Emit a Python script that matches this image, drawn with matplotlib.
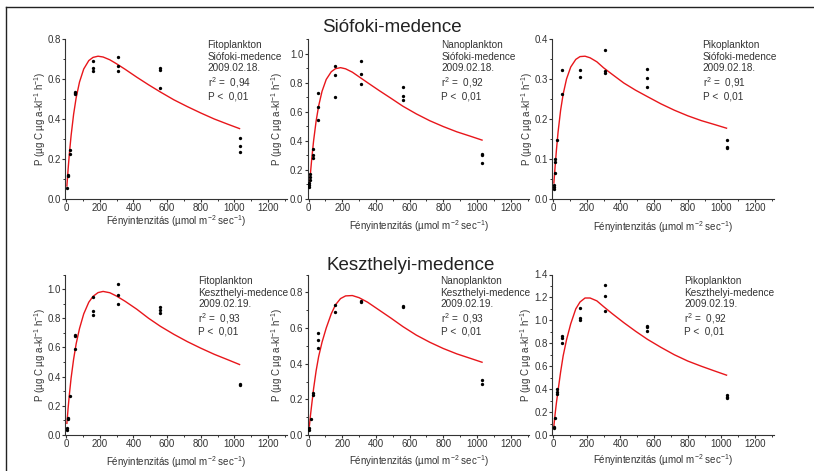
import matplotlib
matplotlib.use('Agg')
import matplotlib.pyplot as plt
from matplotlib.lines import Line2D
from matplotlib.ticker import MultipleLocator, FormatStrFormatter

plt.rcParams['font.family'] = ['Liberation Sans', 'DejaVu Sans']
plt.rcParams['mathtext.default'] = 'regular'

# measured points: light intensity and production
fito_sio_x = [5, 10, 10, 25, 25, 55, 55, 55, 160, 160, 160, 310, 310, 310, 560, 560, 560, 1030, 1030, 1030]
fito_sio_y = [0.055, 0.12, 0.115, 0.245, 0.225, 0.535, 0.53, 0.525, 0.69, 0.655, 0.64,
              0.71, 0.665, 0.64, 0.655, 0.645, 0.555, 0.305, 0.265, 0.235]
nano_sio_x = [5, 5, 5, 10, 10, 10, 25, 25, 25, 55, 55, 55, 160, 160, 160, 310, 310, 310,
              560, 560, 560, 1030, 1030, 1030]
nano_sio_y = [0.08, 0.095, 0.11, 0.13, 0.15, 0.17, 0.345, 0.30, 0.285, 0.73, 0.63, 0.54,
              0.915, 0.855, 0.70, 0.95, 0.86, 0.79, 0.77, 0.71, 0.68, 0.31, 0.30, 0.25]
piko_sio_x = [5, 5, 5, 12, 12, 12, 25, 55, 55, 160, 160, 310, 310, 310, 560, 560, 560, 1030, 1030, 1030]
piko_sio_y = [0.035, 0.03, 0.026, 0.1, 0.092, 0.065, 0.147, 0.322, 0.263, 0.322, 0.305,
              0.372, 0.319, 0.316, 0.324, 0.303, 0.281, 0.147, 0.129, 0.127]
fito_kesz_x = [5, 5, 10, 10, 25, 55, 55, 55, 160, 160, 160, 310, 310, 310, 560, 560, 560, 1030, 1030]
fito_kesz_y = [0.05, 0.037, 0.119, 0.108, 0.265, 0.683, 0.676, 0.59, 0.945, 0.847, 0.824,
               1.034, 0.962, 0.897, 0.878, 0.858, 0.835, 0.352, 0.343]
nano_kesz_x = [5, 5, 12, 25, 25, 55, 55, 55, 160, 160, 310, 310, 560, 560, 1030, 1030]
nano_kesz_y = [0.04, 0.03, 0.09, 0.235, 0.225, 0.572, 0.532, 0.49, 0.728, 0.69,
               0.75, 0.745, 0.725, 0.72, 0.31, 0.285]
piko_kesz_x = [5, 5, 12, 25, 25, 25, 55, 55, 55, 160, 160, 160, 310, 310, 310,
               560, 560, 560, 1030, 1030, 1030]
piko_kesz_y = [0.07, 0.059, 0.149, 0.398, 0.378, 0.357, 0.861, 0.847, 0.803, 1.11, 1.022, 1.002,
               1.312, 1.216, 1.081, 0.955, 0.94, 0.91, 0.35, 0.335, 0.32]

# fitted photosynthesis-light curves
curve_x = [5, 12, 20, 30, 45, 60, 80, 105, 135, 160, 190, 220, 260, 300, 350,
           420, 490, 560, 640, 720, 800, 880, 960, 1030]
fito_sio_fit = [0.065, 0.146, 0.229, 0.317, 0.424, 0.506, 0.585, 0.65, 0.692, 0.708, 0.714, 0.71,
                0.696, 0.676, 0.649, 0.609, 0.571, 0.535, 0.496, 0.462, 0.43, 0.40, 0.374, 0.352]
nano_sio_fit = [0.082, 0.185, 0.289, 0.40, 0.536, 0.64, 0.74, 0.822, 0.875, 0.896, 0.903, 0.895,
                0.872, 0.84, 0.80, 0.745, 0.692, 0.638, 0.585, 0.538, 0.498, 0.462, 0.432, 0.405]
piko_sio_fit = [0.040, 0.08, 0.122, 0.168, 0.222, 0.262, 0.3, 0.33, 0.349, 0.356, 0.357, 0.353,
                0.343, 0.328, 0.312, 0.29, 0.272, 0.256, 0.238, 0.222, 0.208, 0.196, 0.186, 0.177]
fito_kesz_fit = [0.08, 0.18, 0.28, 0.39, 0.52, 0.625, 0.73, 0.83, 0.91, 0.95, 0.976, 0.984,
                 0.975, 0.952, 0.917, 0.862, 0.80, 0.745, 0.69, 0.64, 0.595, 0.553, 0.516, 0.483]
nano_kesz_fit = [0.05, 0.115, 0.18, 0.26, 0.36, 0.44, 0.52, 0.6, 0.68, 0.73, 0.765, 0.78,
                 0.782, 0.77, 0.745, 0.70, 0.655, 0.608, 0.56, 0.52, 0.485, 0.455, 0.43, 0.408]
piko_kesz_fit = [0.08, 0.18, 0.28, 0.39, 0.55, 0.69, 0.83, 0.97, 1.1, 1.16, 1.195, 1.195,
                 1.17, 1.12, 1.06, 0.98, 0.905, 0.835, 0.765, 0.70, 0.645, 0.60, 0.558, 0.522]

groups = ['Fitoplankton', 'Nanoplankton', 'Pikoplankton']
basins = ['Siófoki-medence', 'Keszthelyi-medence']
dates = ['2009.02.18.', '2009.02.19.']
r2_values = [['0,94', '0,92', '0,91'], ['0,93', '0,93', '0,92']]

W, H = 814, 471
fig = plt.figure(figsize=(W / 100, H / 100), dpi=100)

lefts = [65.2, 307.7, 552.2]
bottoms = [199, 435]
heights = [160, 160.5]
width = 221.5

panels = [
    [(fito_sio_x, fito_sio_y, fito_sio_fit, 0.8, 0.2, 0.1, 0.643),
     (nano_sio_x, nano_sio_y, nano_sio_fit, 1.1, 0.2, 0.1, 0.603),
     (piko_sio_x, piko_sio_y, piko_sio_fit, 0.4, 0.1, 0.05, 0.679)],
    [(fito_kesz_x, fito_kesz_y, fito_kesz_fit, 1.1, 0.2, 0.1, 0.600),
     (nano_kesz_x, nano_kesz_y, nano_kesz_fit, 0.9, 0.2, 0.1, 0.600),
     (piko_kesz_x, piko_kesz_y, piko_kesz_fit, 1.4, 0.2, 0.1, 0.597)],
]

# label offsets from the axes corner, in pixels
ylab_dx = [[-25, -31, -25], [-25, -31, -26]]
xlab_dy = [[-22.5, -27.5, -28.5], [-27.5, -26.5, -25]]

line_y = [0.9625, 0.8875, 0.819, 0.727, 0.642]
ink = '#333333'
fs = 7.0

for r in range(2):
    for c in range(3):
        px, py, fit, ymax, major, minor, tx = panels[r][c]
        ax = fig.add_axes([lefts[c] / W, (H - bottoms[r]) / H, width / W, heights[r] / H])
        ax.plot(curve_x, fit, color='#e8161b', lw=1.0, zorder=2)
        ax.plot(px, py, 'o', color='black', ms=2.4, mec='none', zorder=3)
        ax.set_xlim(-5, 1310)
        ax.set_ylim(0, ymax)
        ax.xaxis.set_major_locator(MultipleLocator(200))
        ax.xaxis.set_minor_locator(MultipleLocator(100))
        ax.yaxis.set_major_locator(MultipleLocator(major))
        ax.yaxis.set_minor_locator(MultipleLocator(minor))
        ax.yaxis.set_major_formatter(FormatStrFormatter('%.1f'))
        ax.set_xticks(list(range(0, 1201, 200)))
        ax.spines['top'].set_visible(False)
        ax.spines['right'].set_visible(False)
        for s in ('left', 'bottom'):
            ax.spines[s].set_linewidth(0.8)
            ax.spines[s].set_color(ink)
        ax.tick_params(which='major', direction='out', length=2.3, width=0.8,
                       labelsize=fs, pad=0.8, colors=ink, labelcolor=ink)
        ax.tick_params(which='minor', direction='out', length=1.4, width=0.7, colors=ink)

        ax.text(ylab_dx[r][c] / width, 0.5, 'P (µg C µg a-kl$^{-1}$ h$^{-1}$)',
                transform=ax.transAxes, rotation=90, ha='center', va='center',
                fontsize=fs, color=ink)
        ax.text(0.5, xlab_dy[r][c] / heights[r], 'Fényintenzitás (µmol m$^{-2}$ sec$^{-1}$)',
                transform=ax.transAxes, ha='center', va='center', fontsize=fs, color=ink)

        lines = [groups[c], basins[r], dates[r],
                 'r$^2$ =  ' + r2_values[r][c], 'P <  0,01']
        for txt, ly in zip(lines, line_y):
            ax.text(tx, ly, txt, transform=ax.transAxes, fontsize=7.2,
                    color=ink, ha='left', va='center')

fig.text(392 / W, 1 - 27 / H, 'Siófoki-medence', ha='center', va='center',
         fontsize=13.5, color='#222222')
fig.text(411 / W, 1 - 265.7 / H, 'Keszthelyi-medence', ha='center', va='center',
         fontsize=13.5, color='#222222')

# outer frame (left and top edges)
fig.add_artist(Line2D([5.5 / W, 1], [1 - 7 / H, 1 - 7 / H], transform=fig.transFigure,
                      color='#222222', lw=1.0))
fig.add_artist(Line2D([5.5 / W, 5.5 / W], [0, 1 - 7 / H], transform=fig.transFigure,
                      color='#222222', lw=1.0))

fig.savefig('out.png', dpi=100, facecolor='white')
